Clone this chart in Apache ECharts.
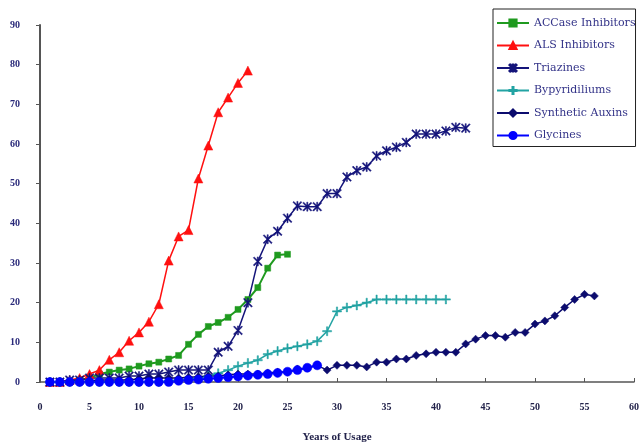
<!DOCTYPE html>
<html>
<head>
<meta charset="utf-8">
<script src="https://cdn.jsdelivr.net/npm/echarts@6/dist/echarts.min.js"></script>
<style>html,body{margin:0;padding:0;background:#fff;}#c{width:642px;height:448px;}</style>
</head>
<body>
<div id="c"></div>
<script>
// Values per year of usage (year 1, 2, 3, ...)
var seriesNames = ["ACCase Inhibitors", "ALS Inhibitors", "Triazines", "Bypyridiliums", "Synthetic Auxins", "Glycines"];
var accase = [0,0,0,0.5,1,2,2.5,3,3.3,4,4.6,5,5.8,6.7,9.5,12,14,15,16.3,18.3,20.8,23.8,28.7,32,32.2];
var als = [0,0,0.5,1,2,3,5.6,7.5,10.4,12.5,15.2,19.6,30.6,36.7,38.3,51.3,59.6,68,71.7,75.4,78.5];
var triazines = [0,0,0.5,0.5,1,1,1,1,1.5,1.5,2,2,2.5,3,3,3,3,7.5,9,13,20,30.4,36,38,41.3,44.4,44.2,44.2,47.5,47.5,51.7,53.3,54.2,57,58.3,59.2,60.4,62.5,62.5,62.5,63.3,64.2,64];
var bypyridiliums = [0,0,0,0,0,0,0,0,0,0,0,0,0.3,0.5,0.8,1,1.5,2.2,3,4,4.8,5.5,7,7.8,8.5,9,9.5,10.3,12.8,17.8,18.8,19.3,20,20.8,20.8,20.8,20.8,20.8,20.8,20.8,20.8];
var auxins = [0,0,0,0,0.3,0.5,0.5,0.5,0.5,0.8,1,1,1,1,1.2,1.3,1.5,1.5,1.8,2,2,2,2.3,2.5,2.5,3.3,3.5,4.2,3,4.2,4.2,4.2,3.8,5,5,5.8,5.8,6.7,7.1,7.5,7.5,7.5,9.6,10.8,11.7,11.7,11.3,12.5,12.5,14.6,15.4,16.7,18.8,20.8,22.1,21.7];
var glycines = [0,0,0,0,0,0,0,0,0,0,0,0,0,0.3,0.5,0.6,0.8,1,1.2,1.4,1.6,1.8,2,2.3,2.6,3,3.6,4.2];
var xTicks = [0,5,10,15,20,25,30,35,40,45,50,55,60];
var yTicks = [0,10,20,30,40,50,60,70,80,90];

function pairs(vals){ return vals.map(function(v,i){ return [i+1, v]; }); }

var starPath = 'path://M1,0L5,4L9,0L10,1L6,5L10,9L9,10L5,6L1,10L0,9L4,5L0,1ZM4.4,0L5.6,0L5.6,10L4.4,10Z';
var plusPath = 'path://M4.3,0H5.7V4.3H10V5.7H5.7V10H4.3V5.7H0V4.3H4.3Z';

var defs = [
  {data: accase, color: '#1f9a1f', symbol: 'rect', size: 6, width: 2},
  {data: als, color: '#ff1010', symbol: 'triangle', size: 9, width: 1.5},
  {data: triazines, color: '#14147a', symbol: starPath, size: 9, width: 1.5},
  {data: bypyridiliums, color: '#22a3a3', symbol: plusPath, size: 9, width: 1.5},
  {data: auxins, color: '#0c0c6e', symbol: 'diamond', size: 8, width: 1.5},
  {data: glycines, color: '#0000ff', symbol: 'circle', size: 9, width: 2}
];

var chart = echarts.init(document.getElementById('c'), null, {renderer: 'canvas'});
chart.setOption({
  animation: false,
  backgroundColor: '#ffffff',
  grid: {left: 40, right: 5, top: 25, bottom: 63, containLabel: false},
  legend: {
    orient: 'vertical',
    left: 493, top: 9,
    backgroundColor: '#fff',
    borderColor: '#222', borderWidth: 1,
    padding: [7, 0, 4, 3],
    itemWidth: 32, itemHeight: 9, itemGap: 8.5,
    textStyle: {fontFamily: 'DejaVu Serif', fontSize: 11, color: '#333388', lineHeight: 14},
    data: seriesNames
  },
  xAxis: {
    type: 'value', min: xTicks[0], max: xTicks[xTicks.length-1], interval: 5,
    name: 'Years of Usage', nameLocation: 'middle', nameGap: 50,
    nameTextStyle: {fontFamily: 'Liberation Serif', fontSize: 11, fontWeight: 'bold', color: '#22224a'},
    axisLine: {lineStyle: {color: '#555', width: 1.5}},
    axisTick: {inside: true, length: 4, lineStyle: {color: '#555'}},
    axisLabel: {margin: 20, fontFamily: 'Liberation Serif', fontSize: 10, fontWeight: 'bold', color: '#22224a'},
    splitLine: {show: false}
  },
  yAxis: {
    type: 'value', min: yTicks[0], max: yTicks[yTicks.length-1], interval: 10,
    axisLine: {show: true, lineStyle: {color: '#555', width: 2}},
    axisTick: {show: true, length: 4, lineStyle: {color: '#555'}},
    axisLabel: {margin: 20, fontFamily: 'Liberation Serif', fontSize: 10, fontWeight: 'bold', color: '#2a2a7a'},
    splitLine: {show: false}
  },
  series: defs.map(function(d, i){
    return {
      name: seriesNames[i], type: 'line', data: pairs(d.data),
      symbol: d.symbol, symbolSize: d.size, showSymbol: true, clip: false,
      lineStyle: {color: d.color, width: d.width},
      itemStyle: {color: d.color, borderColor: d.color, borderWidth: 0.5}
    };
  })
});
</script>
</body>
</html>
